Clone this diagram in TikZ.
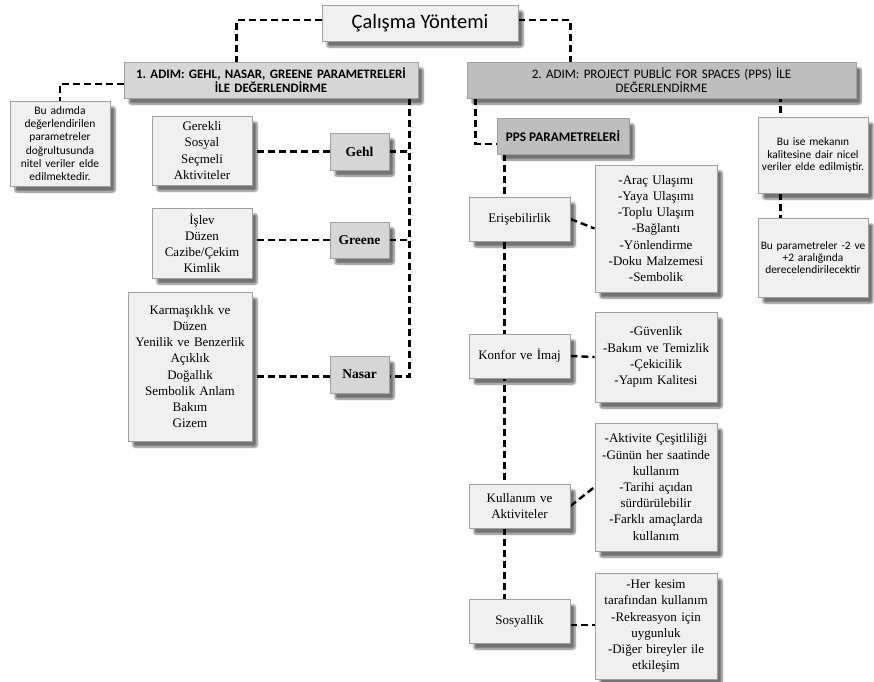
\documentclass[tikz,border=0pt]{standalone}
\usepackage{fontspec}
\setmainfont{Liberation Serif}
\newfontfamily\calf{Carlito}
\usetikzlibrary{shadows.blur,backgrounds}
\definecolor{boxfill}{HTML}{F0F0F0}
\definecolor{midfill}{HTML}{D6D6D6}
\definecolor{darkfill}{HTML}{BEBEBE}
\definecolor{edge}{HTML}{A0A0A0}
\frenchspacing
\tikzset{
  box/.style={draw=edge, fill=boxfill, line width=0.9pt, align=center, inner sep=3pt,
    blur shadow={shadow xshift=5pt, shadow yshift=-6pt, shadow blur steps=8, shadow blur extra rounding=2pt, shadow opacity=55}},
  dl/.style={line width=2.4pt, dash pattern=on 7pt off 4pt},
  serif/.style={font=\fontsize{13}{16.2}\selectfont},
  note/.style={font=\calf\fontsize{11.5}{13.2}\selectfont},
  rnote/.style={font=\calf\fontsize{11.4}{12.2}\selectfont},
  param/.style={box, fill=midfill, font=\bfseries\fontsize{13.5}{16}\selectfont},
}
\begin{document}
\begin{tikzpicture}[x=1pt,y=-1pt]
\useasboundingbox (0,0) rectangle (874,681);
% top level
\node[box, minimum width=196, minimum height=36, font=\calf\fontsize{20.5}{24}\selectfont] (title) at (420,23) {Çalışma Yöntemi};
\node[box, fill=midfill, font=\calf\bfseries\fontsize{12.9}{14}\selectfont, minimum width=294, minimum height=36, text width=288] (step1) at (271,80) {1. ADIM: GEHL, NASAR, GREENE PARAMETRELERİ\\İLE DEĞERLENDİRME};
\node[box, fill=darkfill, font=\calf\fontsize{13}{14}\selectfont, minimum width=389, minimum height=36, text width=383] (step2) at (661.5,80) {2. ADIM: PROJECT PUBLİC FOR SPACES (PPS) İLE\\DEĞERLENDİRME};
% left branch
\node[box, note, minimum width=100, minimum height=85, text width=96, inner sep=2pt] (noteL) at (60,143.5) {Bu adımda\\değerlendirilen\\parametreler\\doğrultusunda\\nitel veriler elde\\edilmektedir.};
\node[box, serif, minimum width=100, minimum height=69, text width=94] (gehlL) at (202,150.5) {Gerekli\\Sosyal\\Seçmeli\\Aktiviteler};
\node[box, serif, minimum width=100, minimum height=70, text width=94] (greeneL) at (202,243) {İşlev\\Düzen\\Cazibe/Çekim\\Kimlik};
\node[box, serif, minimum width=124, minimum height=149, text width=118] (nasarL) at (190,366.5) {Karmaşıklık ve\\Düzen\\Yenilik ve Benzerlik\\Açıklık\\Doğallık\\Sembolik Anlam\\Bakım\\Gizem};
\node[param, minimum width=59, minimum height=37] (gehl) at (359.5,151.5) {Gehl};
\node[param, minimum width=59, minimum height=36] (greene) at (359.5,240) {Greene};
\node[param, minimum width=59, minimum height=37] (nasar) at (359.5,374.5) {Nasar};
% right branch
\node[box, fill=darkfill, font=\calf\bfseries\fontsize{13.2}{14}\selectfont, minimum width=132, minimum height=36] (pps) at (563,136) {PPS PARAMETRELERİ};
\node[box, serif, minimum width=101, minimum height=44, text width=95] (eris) at (519.5,219) {Erişebilirlik};
\node[box, serif, minimum width=101, minimum height=44, text width=95] (konfor) at (519.5,356) {Konfor ve İmaj};
\node[box, serif, minimum width=101, minimum height=44, text width=95] (kull) at (519.5,506) {Kullanım ve\\Aktiviteler};
\node[box, serif, minimum width=101, minimum height=44, text width=95] (sos) at (519.5,621) {Sosyallik};
\node[box, serif, minimum width=122, minimum height=127, text width=116] (list1) at (656,228.5) {-Araç Ulaşımı\\-Yaya Ulaşımı\\-Toplu Ulaşım\\-Bağlantı\\-Yönlendirme\\-Doku Malzemesi\\-Sembolik};
\node[box, serif, minimum width=122, minimum height=90, text width=116] (list2) at (656,357) {-Güvenlik\\-Bakım ve Temizlik\\-Çekicilik\\-Yapım Kalitesi};
\node[box, serif, minimum width=122, minimum height=128, text width=116] (list3) at (656,487) {-Aktivite Çeşitliliği\\-Günün her saatinde\\kullanım\\-Tarihi açıdan\\sürdürülebilir\\-Farklı amaçlarda\\kullanım};
\node[box, serif, minimum width=122, minimum height=106, text width=116] (list4) at (656,626) {-Her kesim\\tarafından kullanım\\-Rekreasyon için\\uygunluk\\-Diğer bireyler ile\\etkileşim};
\node[box, rnote, minimum width=110, minimum height=76, text width=106, inner sep=2pt] (noteA) at (813,155) {Bu ise mekanın\\kalitesine dair nicel\\veriler elde edilmiştir.};
\node[box, rnote, minimum width=110, minimum height=79, text width=106, inner sep=2pt] (noteB) at (813,257.5) {Bu parametreler -2 ve\\+2 aralığında\\derecelendirilecektir};
% helper coordinates
\coordinate (t1) at ([xshift=113pt]step1.north west);
\coordinate (t2) at ([xshift=104pt]step2.north west);
\coordinate (v1) at ([xshift=-9pt]step1.south east);
\coordinate (v2) at ([xshift=9pt]step2.south west);
\coordinate (a1) at ([xshift=23pt]noteA.north west);
\coordinate (a2) at ([xshift=23pt]noteA.south west);
\coordinate (b1) at ([xshift=23pt]noteB.north west);
\coordinate (p1) at ([xshift=8pt]pps.south west);
\coordinate (pw) at ([yshift=-8pt]pps.west);
\begin{scope}[on background layer]
\draw[dl] ([yshift=3pt]title.west) -| (t1);
\draw[dl] ([yshift=3pt]title.east) -| (t2);
\draw[dl] ([yshift=-4pt]step1.west) -| (noteL.north);
\draw[dl] (v1) |- ([yshift=-2pt]nasar.east);
\draw[dl] (gehl.east) -- (gehl.east -| v1);
\draw[dl] (greene.east) -- (greene.east -| v1);
\draw[dl] (gehl.west) -- (gehl.west -| gehlL.east);
\draw[dl] (greene.west) -- (greene.west -| greeneL.east);
\draw[dl] ([yshift=-2pt]nasar.west) -- ([yshift=-2pt]nasar.west -| nasarL.east);
\draw[dl] ([yshift=-3pt]step2.east) -| (a1);
\draw[dl] (a2) -- (b1);
\draw[dl] (v2) |- (pw);
\draw[dl] (p1) -- (p1 |- sos.north);
\draw[dl] (eris.east) -- (list1.west);
\draw[dl] (konfor.east) -- (list2.west);
\draw[dl] (kull.east) -- (list3.west);
\draw[dl] ([yshift=-4pt]sos.east) -- ([yshift=-4pt]sos.east -| list4.west);
\end{scope}
\end{tikzpicture}
\end{document}
